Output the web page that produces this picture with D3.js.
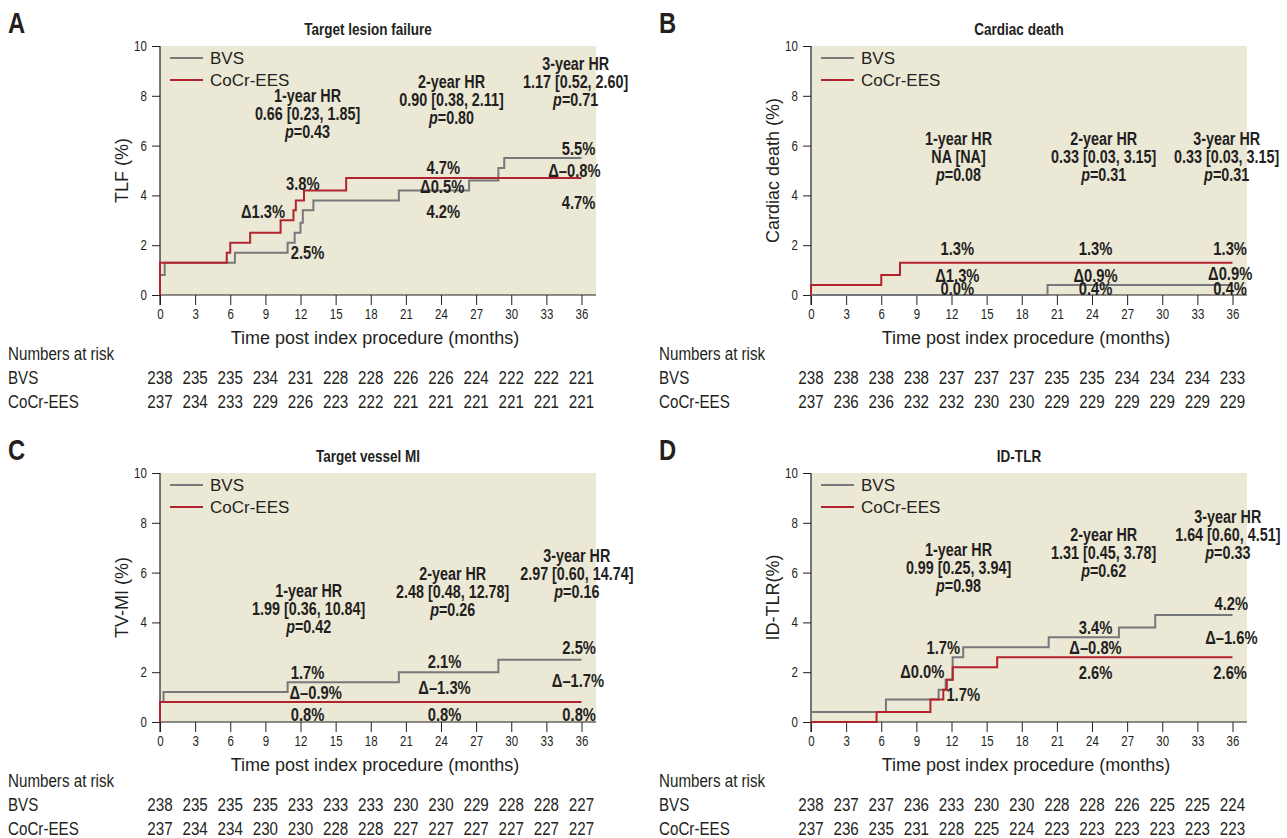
<!DOCTYPE html>
<html>
<head>
<meta charset="utf-8">
<script src="https://cdn.jsdelivr.net/npm/d3@7"></script>
<style>
  body { margin: 0; background: #fff; }
  svg { display: block; }
</style>
</head>
<body>
<svg id="chart" width="1287" height="838"></svg>
<script>
// x ticks and risk-table times (months)
var months = [0, 3, 6, 9, 12, 15, 18, 21, 24, 27, 30, 33, 36]
var yTicks = [0, 2, 4, 6, 8, 10]

// step curves: [month, cumulative %] — level reached at that month
var tlfBVS = [[0, 0.8], [0.4, 1.3], [6.4, 1.7], [10.9, 2.1], [11.5, 2.5], [12.0, 2.9], [12.2, 3.4], [13.1, 3.8], [20.4, 4.2], [26.4, 4.6], [28.9, 5.1], [29.4, 5.5]]
var tlfEES = [[0, 1.3], [5.7, 1.7], [6.0, 2.1], [7.7, 2.5], [10.3, 3.0], [11.4, 3.4], [11.6, 3.8], [12.3, 4.2], [15.9, 4.7]]
var cdBVS = [[20.2, 0.4]]
var cdEES = [[0, 0.4], [6.0, 0.8], [7.6, 1.3]]
var miBVS = [[0, 0.8], [0.3, 1.2], [10.9, 1.6], [20.4, 2.0], [28.9, 2.5]]
var miEES = [[0, 0.8]]
var tlrBVS = [[0, 0.4], [6.4, 0.9], [10.9, 1.3], [11.5, 1.7], [12.1, 2.6], [13.0, 3.0], [20.3, 3.4], [26.3, 3.8], [29.4, 4.3]]
var tlrEES = [[5.6, 0.4], [10.2, 0.9], [11.3, 1.3], [11.6, 1.7], [12.1, 2.2], [15.9, 2.6]]

// numbers at risk
var tlfRiskBVS = [238, 235, 235, 234, 231, 228, 228, 226, 226, 224, 222, 222, 221]
var tlfRiskEES = [237, 234, 233, 229, 226, 223, 222, 221, 221, 221, 221, 221, 221]
var cdRiskBVS = [238, 238, 238, 238, 237, 237, 237, 235, 235, 234, 234, 234, 233]
var cdRiskEES = [237, 236, 236, 232, 232, 230, 230, 229, 229, 229, 229, 229, 229]
var miRiskBVS = [238, 235, 235, 235, 233, 233, 233, 230, 230, 229, 228, 228, 227]
var miRiskEES = [237, 234, 234, 230, 230, 228, 228, 227, 227, 227, 227, 227, 227]
var tlrRiskBVS = [238, 237, 237, 236, 233, 230, 230, 228, 228, 226, 225, 225, 224]
var tlrRiskEES = [237, 236, 235, 231, 228, 225, 224, 223, 223, 223, 223, 223, 223]

// hazard ratio blocks: [label, HR [CI], p]
var tlfHR = [["1-year HR", "0.66 [0.23, 1.85]", "0.43"], ["2-year HR", "0.90 [0.38, 2.11]", "0.80"], ["3-year HR", "1.17 [0.52, 2.60]", "0.71"]]
var cdHR = [["1-year HR", "NA [NA]", "0.08"], ["2-year HR", "0.33 [0.03, 3.15]", "0.31"], ["3-year HR", "0.33 [0.03, 3.15]", "0.31"]]
var miHR = [["1-year HR", "1.99 [0.36, 10.84]", "0.42"], ["2-year HR", "2.48 [0.48, 12.78]", "0.26"], ["3-year HR", "2.97 [0.60, 14.74]", "0.16"]]
var tlrHR = [["1-year HR", "0.99 [0.25, 3.94]", "0.98"], ["2-year HR", "1.31 [0.45, 3.78]", "0.62"], ["3-year HR", "1.64 [0.60, 4.51]", "0.33"]]

// rate labels at 1, 2, 3 years: [upper, delta, lower]
var tlfPct = [["3.8%", "Δ1.3%", "2.5%"], ["4.7%", "Δ0.5%", "4.2%"], ["5.5%", "Δ–0.8%", "4.7%"]]
var cdPct = [["1.3%", "Δ1.3%", "0.0%"], ["1.3%", "Δ0.9%", "0.4%"], ["1.3%", "Δ0.9%", "0.4%"]]
var miPct = [["1.7%", "Δ–0.9%", "0.8%"], ["2.1%", "Δ–1.3%", "0.8%"], ["2.5%", "Δ–1.7%", "0.8%"]]
var tlrPct = [["1.7%", "Δ0.0%", "1.7%"], ["3.4%", "Δ–0.8%", "2.6%"], ["4.2%", "Δ–1.6%", "2.6%"]]

var FONT = "'Liberation Sans', Arial, Helvetica, sans-serif"
var SQUEEZE = 0.82   // Liberation Sans squeezed to a narrow face
var INK = "#231f20"
var GREY = "#77787b"
var RED = "#b1232d"
var BG = "#ece8d6"

var svg = d3.select("#chart")

// narrow text: Liberation Sans scaled horizontally
function ntext(sel, x, y, size, bold) {
  return sel.append("text")
    .attr("transform", "translate(" + x + "," + y + ") scale(" + SQUEEZE + ",1)")
    .attr("font-family", FONT).attr("font-size", size)
    .attr("font-weight", bold ? "bold" : "normal").attr("fill", INK)
}

var panels = [
  { letter: "A", title: "Target lesion failure", ylab: "TLF (%)", x0: 160, top: 46, bvs: tlfBVS, ees: tlfEES,
    riskB: tlfRiskBVS, riskE: tlfRiskEES, hr: tlfHR, pct: tlfPct,
    hrPos: [[12.6, 8.0], [24.9, 8.55], [35.5, 9.28]],
    pctPos: [[[12.2, 4.5], [8.8, 3.37], [12.6, 1.69]], [[24.2, 5.14], [24.1, 4.34], [24.2, 3.37]], [[35.75, 5.9], [35.4, 5.02], [35.75, 3.73]]] },
  { letter: "B", title: "Cardiac death", ylab: "Cardiac death (%)", x0: 811, top: 46, bvs: cdBVS, ees: cdEES,
    riskB: cdRiskBVS, riskE: cdRiskEES, hr: cdHR, pct: cdPct,
    hrPos: [[12.6, 6.27], [25.0, 6.27], [35.5, 6.27]],
    pctPos: [[[12.5, 1.85], [12.5, 0.8], [12.5, 0.28]], [[24.3, 1.85], [24.3, 0.8], [24.3, 0.26]], [[35.8, 1.85], [35.8, 0.88], [35.8, 0.28]]] },
  { letter: "C", title: "Target vessel MI", ylab: "TV-MI (%)", x0: 160, top: 473, bvs: miBVS, ees: miEES,
    riskB: miRiskBVS, riskE: miRiskEES, hr: miHR, pct: miPct,
    hrPos: [[12.7, 5.27], [25.0, 5.96], [35.6, 6.68]],
    pctPos: [[[12.6, 1.98], [13.3, 1.18], [12.6, 0.29]], [[24.3, 2.42], [24.3, 1.38], [24.3, 0.29]], [[35.8, 2.98], [35.7, 1.66], [35.8, 0.29]]] },
  { letter: "D", title: "ID-TLR", ylab: "ID-TLR(%)", x0: 811, top: 473, bvs: tlrBVS, ees: tlrEES,
    riskB: tlrRiskBVS, riskE: tlrRiskEES, hr: tlrHR, pct: tlrPct,
    hrPos: [[12.6, 6.92], [25.0, 7.52], [35.6, 8.24]],
    pctPos: [[[11.3, 2.98], [9.5, 2.02], [13.0, 1.1]], [[24.3, 3.79], [24.3, 2.98], [24.3, 1.98]], [[35.9, 4.75], [35.9, 3.39], [35.8, 1.98]]] }
]

panels.forEach(function(p) {
  var x = d3.scaleLinear().domain([0, 36]).range([p.x0, p.x0 + 421.5])
  var y = d3.scaleLinear().domain([0, 10]).range([p.top + 249, p.top])
  var bottom = y(0)
  var right = p.x0 + 436
  var g = svg.append("g")

  // panel letter and title
  ntext(g, p.x0 - 152, p.top - 13, 29, true).text(p.letter)
  ntext(g, p.x0 + 208, p.top - 11, 16.5, true).attr("text-anchor", "middle").text(p.title)

  // background
  g.append("rect").attr("x", p.x0).attr("y", p.top).attr("width", right - p.x0).attr("height", bottom - p.top)
    .attr("fill", BG)

  // axes
  var xAxis = g.append("g").attr("transform", "translate(0," + bottom + ")")
    .call(d3.axisBottom(x).tickValues(months).tickSize(10).tickSizeOuter(0).tickPadding(4))
  xAxis.select(".domain").remove()
  var yAxis = g.append("g").attr("transform", "translate(" + p.x0 + ",0)")
    .call(d3.axisLeft(y).tickValues(yTicks).tickSize(8).tickSizeOuter(0).tickPadding(8))
  yAxis.select(".domain").remove()
  g.selectAll(".tick line").attr("stroke", INK).attr("stroke-width", 1)
  g.selectAll(".tick text").attr("font-family", FONT).attr("font-size", 14).attr("fill", INK)
    .attr("transform", "scale(" + SQUEEZE + ",1)")
  g.append("line").attr("x1", p.x0).attr("x2", right).attr("y1", bottom).attr("y2", bottom)
    .attr("stroke", INK).attr("stroke-width", 1.2)
  g.append("line").attr("x1", p.x0).attr("x2", p.x0).attr("y1", p.top).attr("y2", bottom + 10)
    .attr("stroke", INK).attr("stroke-width", 1.2)

  g.append("text").attr("x", p.x0 + 215).attr("y", bottom + 43)
    .attr("text-anchor", "middle").attr("dominant-baseline", "central")
    .attr("font-family", FONT).attr("font-size", 18).attr("fill", INK)
    .text("Time post index procedure (months)")
  g.append("text")
    .attr("transform", "translate(" + (p.x0 - 38) + "," + y(5) + ") rotate(-90)")
    .attr("text-anchor", "middle").attr("dominant-baseline", "central")
    .attr("font-family", FONT).attr("font-size", 18).attr("fill", INK)
    .text(p.ylab)

  // step curves
  var line = d3.line().x(function(d) { return x(d[0]) }).y(function(d) { return y(d[1]) }).curve(d3.curveStepAfter)
  function pts(s) {
    var a = [[0, 0]].concat(s)
    a.push([36, s[s.length - 1][1]])
    return a
  }
  g.append("path").attr("d", line(pts(p.bvs))).attr("fill", "none").attr("stroke", GREY).attr("stroke-width", 2)
  g.append("path").attr("d", line(pts(p.ees))).attr("fill", "none").attr("stroke", RED).attr("stroke-width", 2)

  // legend
  var leg = [["BVS", GREY], ["CoCr-EES", RED]]
  leg.forEach(function(l, i) {
    var ly = p.top + 12 + i * 22
    g.append("line").attr("x1", p.x0 + 10).attr("x2", p.x0 + 43).attr("y1", ly).attr("y2", ly)
      .attr("stroke", l[1]).attr("stroke-width", 2)
    g.append("text").attr("x", p.x0 + 50).attr("y", ly).attr("dominant-baseline", "central")
      .attr("font-family", FONT).attr("font-size", 17).attr("fill", INK).text(l[0])
  })

  // HR blocks
  p.hr.forEach(function(h, i) {
    var t = ntext(g, x(p.hrPos[i][0]), y(p.hrPos[i][1]), 17.5, true).attr("text-anchor", "middle")
    t.append("tspan").attr("x", 0).attr("y", 6).text(h[0])
    t.append("tspan").attr("x", 0).attr("y", 24).text(h[1])
    var l3 = t.append("tspan").attr("x", 0).attr("y", 42)
    l3.append("tspan").attr("font-style", "italic").text("p")
    l3.append("tspan").text("=" + h[2])
  })

  // rate labels
  p.pct.forEach(function(set, i) {
    set.forEach(function(s, j) {
      ntext(g, x(p.pctPos[i][j][0]), y(p.pctPos[i][j][1]), 18, true)
        .attr("text-anchor", "middle").attr("dominant-baseline", "central").text(s)
    })
  })

  // numbers at risk
  var rows = [["Numbers at risk", null, bottom + 59], ["BVS", p.riskB, bottom + 83], ["CoCr-EES", p.riskE, bottom + 107]]
  rows.forEach(function(r) {
    ntext(g, p.x0 - 152, r[2], 18.5, false).attr("dominant-baseline", "central").text(r[0])
    if (r[1]) {
      r[1].forEach(function(d, k) {
        ntext(g, x(months[k]), r[2], 18.5, false)
          .attr("text-anchor", "middle").attr("dominant-baseline", "central").text(d)
      })
    }
  })
})
</script>
</body>
</html>
